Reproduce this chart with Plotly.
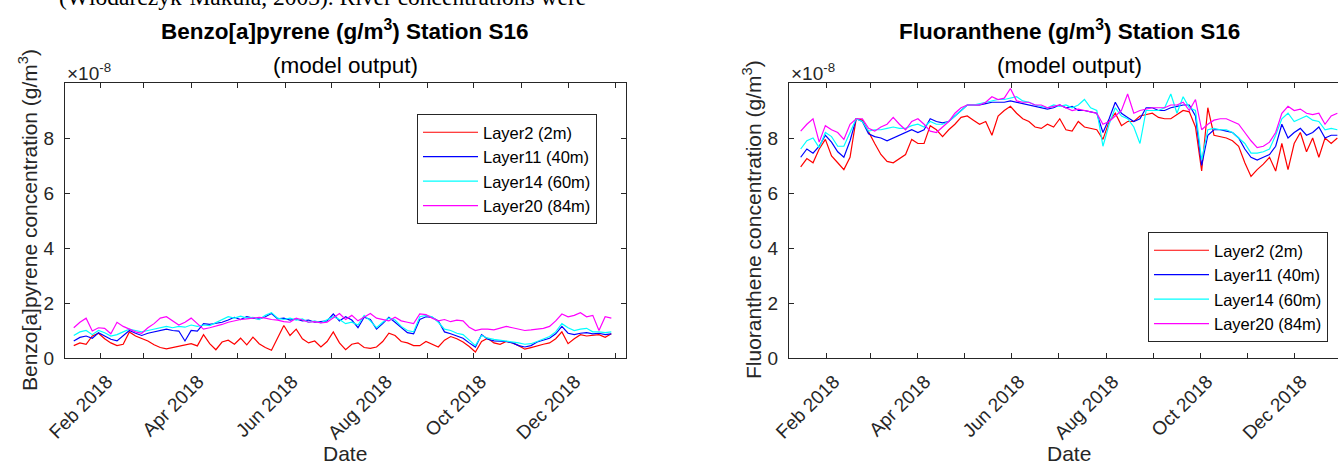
import pandas as pd
import plotly.graph_objects as go

# ---------------- data (values in units of 1e-8 g/m^3) ----------------
dates = pd.date_range("2018-01-15", "2018-12-29", freq="4D")  # 88 samples

layer_names = ["Layer2 (2m)", "Layer11 (40m)", "Layer14 (60m)", "Layer20 (84m)"]
layer_colors = ["#ff0000", "#0000ff", "#00ffff", "#ff00ff"]

bap_layer2 = [
    0.45, 0.55, 0.50, 0.80, 0.90, 0.70, 0.55, 0.45, 0.50, 0.95, 0.80,
    0.72, 0.62, 0.48, 0.38, 0.33, 0.38, 0.42, 0.46, 0.52, 0.44, 0.85,
    0.52, 0.30, 0.58, 0.65, 0.50, 0.72, 0.48, 0.76, 0.52, 0.38, 0.28,
    0.72, 1.18, 0.82, 1.05, 0.70, 0.55, 0.62, 0.40, 0.60, 0.95, 0.55,
    0.30, 0.50, 0.55, 0.38, 0.35, 0.40, 0.60, 0.90, 0.82, 0.60, 0.55,
    0.45, 0.45, 0.60, 0.50, 0.40, 0.65, 0.78, 0.70, 0.58, 0.42, 0.22,
    0.60, 0.72, 0.55, 0.50, 0.60, 0.55, 0.45, 0.32, 0.38, 0.45, 0.50,
    0.55, 0.70, 0.95, 0.52, 0.70, 0.85, 0.80, 0.82, 0.85, 0.75, 0.88,
]
bap_layer11 = [
    0.62, 0.75, 0.80, 0.72, 0.92, 0.80, 0.68, 0.62, 0.80, 1.00, 0.90,
    0.82, 0.90, 0.95, 1.00, 1.05, 1.00, 0.98, 0.62, 1.00, 0.98, 1.25,
    1.22, 1.25, 1.30, 1.38, 1.48, 1.40, 1.50, 1.45, 1.42, 1.50, 1.62,
    1.42, 1.45, 1.38, 1.42, 1.35, 1.38, 1.30, 1.32, 1.35, 1.60, 1.35,
    1.50, 1.38, 1.10, 1.48, 1.40, 1.05, 1.25, 1.48, 1.30, 1.10, 0.92,
    0.88, 1.40, 1.50, 1.48, 1.35, 0.95, 0.88, 0.80, 0.72, 0.55, 0.40,
    0.85, 0.68, 0.62, 0.60, 0.60, 0.55, 0.45, 0.40, 0.45, 0.58, 0.65,
    0.72, 0.88, 1.15, 0.90, 0.85, 0.90, 0.92, 0.88, 0.90, 0.85, 0.88,
]
bap_layer14 = [
    0.82, 0.95, 1.00, 0.85, 1.00, 0.92, 0.80, 0.85, 0.95, 1.05, 1.00,
    0.95, 1.00, 1.05, 1.12, 1.15, 1.10, 1.15, 1.12, 1.20, 1.15, 1.20,
    1.18, 1.28, 1.40, 1.50, 1.45, 1.52, 1.45, 1.48, 1.40, 1.55, 1.65,
    1.45, 1.40, 1.45, 1.38, 1.42, 1.30, 1.35, 1.28, 1.40, 1.50, 1.40,
    1.25, 1.30, 1.20, 1.55, 1.35, 1.10, 1.30, 1.45, 1.38, 1.15, 1.00,
    0.95, 1.50, 1.55, 1.50, 1.30, 1.05, 1.00, 0.90, 0.85, 0.65, 0.45,
    0.82, 0.72, 0.68, 0.65, 0.62, 0.58, 0.55, 0.50, 0.52, 0.60, 0.70,
    0.78, 0.95, 1.25, 1.10, 1.00, 1.05, 1.08, 0.95, 0.95, 0.92, 0.95,
]
bap_layer20 = [
    1.10, 1.30, 1.45, 0.98, 1.10, 1.08, 0.88, 1.30, 1.15, 1.05, 0.95,
    0.90, 1.10, 1.25, 1.45, 1.50, 1.35, 1.20, 1.30, 1.45, 1.25, 1.05,
    1.10, 1.15, 1.22, 1.30, 1.35, 1.40, 1.42, 1.45, 1.48, 1.45, 1.40,
    1.38, 1.32, 1.30, 1.45, 1.38, 1.30, 1.32, 1.28, 1.30, 1.45, 1.62,
    1.40, 1.55, 1.35, 1.50, 1.62, 1.45, 1.40, 1.35, 1.48, 1.35, 1.30,
    1.25, 1.60, 1.58, 1.45, 1.35, 1.40, 1.32, 1.38, 1.35, 1.12, 1.00,
    1.05, 1.05, 1.02, 1.08, 1.15, 1.10, 1.05, 1.00, 1.02, 1.05, 1.08,
    1.15, 1.35, 1.60, 1.50, 1.55, 1.65, 1.50, 1.55, 1.00, 1.50, 1.45,
]

flu_layer2 = [
    6.95, 7.25, 7.10, 7.60, 7.95, 7.35, 7.10, 6.85, 7.30, 8.70, 8.65,
    8.20, 7.80, 7.40, 7.15, 7.10, 7.25, 7.40, 7.95, 7.80, 7.80, 8.45,
    8.30, 8.05, 8.30, 8.50, 8.75, 8.80, 8.65, 8.50, 8.60, 8.10, 8.80,
    9.00, 9.15, 8.90, 8.70, 8.60, 8.40, 8.35, 8.50, 8.40, 8.70, 8.30,
    8.25, 8.60, 8.40, 8.35, 8.30, 7.95, 8.60, 8.90, 8.45, 8.60, 8.60,
    8.80, 8.85, 8.90, 8.75, 8.70, 8.70, 8.85, 9.00, 8.95, 8.40, 6.80,
    9.10, 8.10, 8.05, 8.00, 7.90, 7.70, 7.10, 6.60, 6.85, 7.05, 7.30,
    6.80, 7.80, 6.85, 7.80, 8.20, 7.50, 8.00, 7.30, 8.00, 7.80, 8.00,
]
flu_layer11 = [
    7.30, 7.60, 7.45, 7.70, 8.10, 7.85, 7.50, 7.30, 7.90, 8.70, 8.60,
    8.15, 8.05, 8.00, 7.90, 8.00, 8.10, 8.20, 8.30, 8.20, 8.30, 8.70,
    8.60, 8.55, 8.60, 8.80, 9.00, 9.20, 9.20, 9.20, 9.25, 9.30, 9.30,
    9.30, 9.35, 9.30, 9.25, 9.20, 9.15, 9.10, 9.05, 9.10, 9.20, 9.10,
    9.15, 9.00, 9.00, 8.95, 8.90, 8.20, 8.70, 9.30, 8.90, 8.75, 8.60,
    8.70, 9.10, 9.10, 9.00, 9.00, 9.10, 9.15, 9.20, 9.20, 8.80, 7.00,
    8.10, 8.30, 8.30, 8.25, 8.20, 8.00, 7.60, 7.30, 7.20, 7.30, 7.40,
    7.70, 8.50, 8.00, 8.20, 8.35, 8.10, 8.20, 8.40, 8.00, 8.10, 8.10,
]
flu_layer14 = [
    7.60, 7.90, 8.00, 7.65, 8.20, 8.05, 7.70, 7.70, 8.20, 8.70, 8.60,
    8.25, 8.30, 8.30, 8.35, 8.40, 8.35, 8.35, 8.45, 8.50, 8.40, 8.60,
    8.50, 8.50, 8.60, 8.80, 9.00, 9.20, 9.20, 9.25, 9.30, 9.35, 9.40,
    9.40, 9.45, 9.50, 9.35, 9.30, 9.20, 9.15, 9.10, 9.20, 9.15, 9.20,
    9.10, 9.20, 9.40, 9.10, 9.00, 7.70, 8.50, 9.10, 8.80, 8.70, 8.40,
    7.80, 9.00, 9.00, 9.00, 9.10, 9.60, 8.90, 9.50, 9.10, 9.00, 7.20,
    8.30, 8.35, 8.30, 8.30, 8.20, 8.00, 7.80, 7.45, 7.45, 7.50, 7.60,
    8.10, 8.70, 8.90, 8.60, 8.70, 8.80, 8.65, 8.60, 8.30, 8.35, 8.30,
]
flu_layer20 = [
    8.25, 8.50, 8.70, 7.85, 8.45, 8.30, 8.20, 7.95, 8.50, 8.70, 8.70,
    8.35, 8.25, 8.40, 8.50, 8.75, 8.50, 8.30, 8.60, 8.70, 8.50, 8.25,
    8.20, 8.40, 8.60, 8.90, 9.10, 9.20, 9.20, 9.20, 9.30, 9.50, 9.40,
    9.45, 9.80, 9.35, 9.30, 9.30, 9.20, 9.20, 9.10, 9.15, 9.20, 9.10,
    9.00, 9.05, 9.00, 8.95, 8.90, 8.50, 8.60, 8.80, 9.00, 9.60, 8.90,
    9.00, 9.05, 9.10, 9.10, 9.10, 9.20, 9.20, 9.30, 9.00, 9.40, 8.30,
    8.50, 8.65, 8.70, 8.70, 8.60, 8.50, 8.20, 7.90, 7.65, 7.70, 7.85,
    8.20, 8.90, 9.15, 9.00, 9.05, 8.90, 8.85, 8.90, 8.50, 8.80, 8.90,
]

tick_dates = pd.date_range("2018-02-01", "2019-01-01", freq="MS")
tick_labels = ["Feb 2018", "", "Apr 2018", "", "Jun 2018", "", "Aug 2018", "",
               "Oct 2018", "", "Dec 2018", ""]
y_ticks = [0, 2, 4, 6, 8]
SCALE = 1e-8

# ---------------- figure ----------------
W, H = 1338, 464
FONT = "Liberation Sans, Arial, Helvetica, sans-serif"
GRAY = "#262626"


def fx(p):
    return p / W


def fy(p):
    return 1 - p / H


fig = go.Figure()
bap = [bap_layer2, bap_layer11, bap_layer14, bap_layer20]
flu = [flu_layer2, flu_layer11, flu_layer14, flu_layer20]
for name, color, bv, fv in zip(layer_names, layer_colors, bap, flu):
    fig.add_trace(go.Scatter(x=dates, y=[v * SCALE for v in bv], mode="lines",
                             name=name, line=dict(color=color, width=1.2),
                             xaxis="x", yaxis="y", legend="legend"))
    fig.add_trace(go.Scatter(x=dates, y=[v * SCALE for v in fv], mode="lines",
                             name=name, line=dict(color=color, width=1.2),
                             xaxis="x2", yaxis="y2", legend="legend2"))

common = dict(showline=True, linecolor=GRAY, linewidth=1, ticks="inside",
              ticklen=5, tickcolor=GRAY, tickwidth=1, showgrid=False,
              zeroline=False, automargin=False,
              tickfont=dict(family=FONT, size=19, color=GRAY))
xcommon = dict(tickvals=tick_dates, ticktext=tick_labels, tickangle=-45,
               mirror="ticks", ticklabelshift=7, ticklabelstandoff=4, **common)
ycommon = dict(range=[0, 10 * SCALE], tickvals=[v * SCALE for v in y_ticks],
               ticktext=[str(v) for v in y_ticks], ticklabelstandoff=6, **common)

y_dom = [fy(358), fy(83)]
leg_common = dict(xanchor="left", yanchor="top", bgcolor="white", bordercolor=GRAY,
                  borderwidth=1, font=dict(family=FONT, size=16.5, color="black"),
                  itemwidth=55)
fig.update_layout(
    width=W, height=H, margin=dict(l=0, r=0, t=0, b=0, autoexpand=False),
    paper_bgcolor="white", plot_bgcolor="white", showlegend=True,
    xaxis=dict(domain=[fx(65), fx(626)], range=["2018-01-09 08:00", "2019-01-07 12:00"],
               anchor="y", **xcommon),
    yaxis=dict(domain=y_dom, mirror="ticks", anchor="x", **ycommon),
    xaxis2=dict(domain=[fx(789), 1.0], range=["2018-01-07 10:00", "2018-12-29 10:00"],
                anchor="y2", **xcommon),
    yaxis2=dict(domain=y_dom, mirror=False, anchor="x2", **ycommon),
    legend=dict(x=fx(417), y=fy(114), **leg_common),
    legend2=dict(x=fx(1148), y=fy(232), **leg_common),
)

ann = []
# cropped paragraph line at the very top of the page
ann.append(dict(text="(Wlodarczyk-Makula, 2003). River concentrations were",
                x=fx(57), y=fy(-3), xanchor="left", yanchor="middle",
                font=dict(family="Liberation Serif, Times New Roman, serif", size=23.5, color="black"),
                showarrow=False))
panels = [
    (345, 28, "Benzo[a]pyrene (g/m<sup>3</sup>) Station S16",
     "Benzo[a]pyrene concentration (g/m<sup>3</sup>)", 65),
    (1069, 752, "Fluoranthene (g/m<sup>3</sup>) Station S16",
     "Fluoranthene concentration (g/m<sup>3</sup>)", 789),
]
for cx, ylab_x, title, ylab, left in panels:
    ann.append(dict(text="<b>" + title + "</b>", x=fx(cx), y=fy(30), xanchor="center",
                    yanchor="middle", showarrow=False,
                    font=dict(family=FONT, size=22.5, color="black")))
    ann.append(dict(text="(model output)", x=fx(cx), y=fy(65), xanchor="center",
                    yanchor="middle", showarrow=False,
                    font=dict(family=FONT, size=22.5, color="black")))
    ann.append(dict(text="×10<sup>-8</sup>", x=fx(left), y=fy(72), xanchor="left",
                    yanchor="middle", showarrow=False,
                    font=dict(family=FONT, size=19, color=GRAY)))
    ann.append(dict(text=ylab, x=fx(ylab_x), y=fy(220), xanchor="center",
                    yanchor="middle", textangle=-90, showarrow=False,
                    font=dict(family=FONT, size=21, color=GRAY)))
    ann.append(dict(text="Date", x=fx(cx), y=fy(453), xanchor="center",
                    yanchor="middle", showarrow=False,
                    font=dict(family=FONT, size=21, color=GRAY)))
for a in ann:
    a["xref"] = "paper"
    a["yref"] = "paper"
fig.update_layout(annotations=ann)

# remove the browser's default 8px body margin so the figure fills the window
fig.write_html("out.html", config={"displayModeBar": False},
               post_script="document.body.style.margin='0';")
